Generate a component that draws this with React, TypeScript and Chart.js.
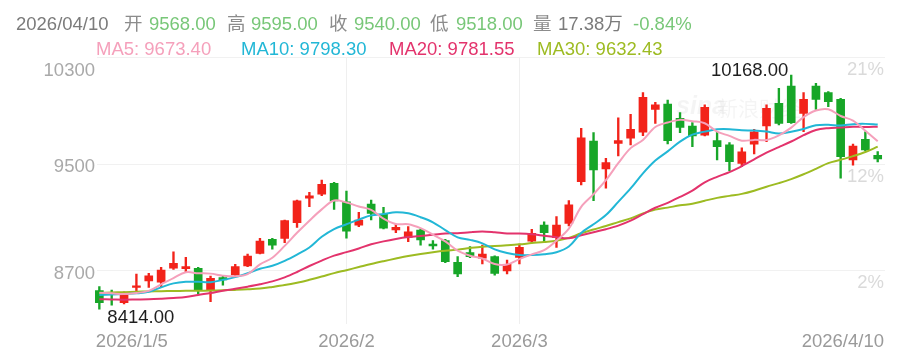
import { useEffect, useRef } from 'react';
import { Chart, registerables } from 'chart.js';

Chart.register(...registerables);

// ---- data ----
const dates = [
  '2026/1/5', '2026/1/6', '2026/1/7', '2026/1/8', '2026/1/9', '2026/1/12', '2026/1/13', '2026/1/14', '2026/1/15', '2026/1/16',
  '2026/1/19', '2026/1/20', '2026/1/21', '2026/1/22', '2026/1/23', '2026/1/26', '2026/1/27', '2026/1/28', '2026/1/29', '2026/1/30',
  '2026/2/2', '2026/2/3', '2026/2/4', '2026/2/5', '2026/2/6', '2026/2/9', '2026/2/10', '2026/2/11', '2026/2/12', '2026/2/13',
  '2026/2/24', '2026/2/25', '2026/2/26', '2026/2/27',
  '2026/3/2', '2026/3/3', '2026/3/4', '2026/3/5', '2026/3/6', '2026/3/9', '2026/3/10', '2026/3/11', '2026/3/12', '2026/3/13',
  '2026/3/16', '2026/3/17', '2026/3/18', '2026/3/19', '2026/3/20', '2026/3/23', '2026/3/24', '2026/3/25', '2026/3/26', '2026/3/27',
  '2026/3/30', '2026/3/31',
  '2026/4/1', '2026/4/2', '2026/4/3', '2026/4/6', '2026/4/7', '2026/4/8', '2026/4/9', '2026/4/10',
];

const opens = [
  8552, 8537, 8462, 8577, 8625, 8615, 8720, 8717, 8720, 8557,
  8650, 8670, 8737, 8832, 8937, 8944, 9062, 9245, 9275, 9357,
  9219, 9044, 9202, 9125, 9007, 8952, 9007, 8902, 8927, 8765,
  8837, 8795, 8807, 8700, 8802, 8924, 9044, 8949, 9057, 9369,
  9674, 9465, 9657, 9695, 9740, 9912, 9952, 9845, 9787, 9719,
  9677, 9645, 9507, 9650, 9787, 9957, 10087, 9882, 10087, 10037,
  9987, 9532, 9687, 9568,
];
const highs = [
  8582, 8557, 8544, 8677, 8682, 8727, 8844, 8802, 8727, 8662,
  8662, 8750, 8827, 8944, 8944, 9082, 9232, 9290, 9382, 9365,
  9299, 9140, 9232, 9177, 9050, 9032, 9015, 8927, 8937, 8807,
  8883, 8894, 8814, 8782, 8902, 9012, 9069, 9107, 9227, 9770,
  9737, 9545, 9849, 9875, 10037, 9965, 9982, 9887, 9812, 9945,
  9744, 9662, 9624, 9762, 9945, 10070, 10168, 10037, 10107, 10045,
  9995, 9652, 9744, 9595,
];
const lows = [
  8414, 8444, 8452, 8544, 8577, 8582, 8712, 8687, 8527, 8469,
  8594, 8657, 8732, 8827, 8864, 8912, 9027, 9182, 9264, 9162,
  8945, 9032, 9082, 9015, 8987, 8919, 8894, 8864, 8762, 8657,
  8799, 8752, 8669, 8677, 8752, 8912, 8919, 8877, 9037, 9345,
  9227, 9320, 9562, 9645, 9714, 9807, 9652, 9737, 9632, 9712,
  9532, 9452, 9482, 9577, 9669, 9795, 9807, 9744, 9912, 9932,
  9395, 9494, 9602, 9518,
];
const closes = [
  8462, 8522, 8520, 8589, 8664, 8707, 8757, 8732, 8557, 8645,
  8632, 8732, 8812, 8924, 8894, 9077, 9225, 9264, 9350, 9225,
  8999, 9082, 9132, 9020, 9027, 8994, 8932, 8887, 8769, 8677,
  8807, 8827, 8682, 8750, 8877, 8982, 8987, 9044, 9195, 9699,
  9457, 9512, 9677, 9762, 10002, 9945, 9677, 9777, 9712, 9927,
  9632, 9519, 9594, 9744, 9920, 9807, 9812, 9987, 9987, 9969,
  9557, 9637, 9607, 9540,
];

const ma5 = [
  8537, 8532, 8527, 8535, 8551, 8600, 8647, 8690, 8683, 8680,
  8665, 8660, 8676, 8749, 8799, 8888, 8986, 9077, 9162, 9228,
  9213, 9184, 9158, 9092, 9052, 9051, 9021, 8972, 8922, 8852,
  8814, 8793, 8752, 8749, 8789, 8824, 8856, 8928, 9017, 9181,
  9276, 9381, 9508, 9621, 9682, 9780, 9813, 9833, 9823, 9808,
  9745, 9713, 9677, 9683, 9682, 9717, 9775, 9854, 9903, 9912,
  9862, 9827, 9751, 9673,
];
const ma10 = [
  8520, 8523, 8527, 8532, 8544, 8577, 8607, 8619, 8619, 8616,
  8633, 8654, 8683, 8716, 8739, 8776, 8823, 8876, 8956, 9014,
  9050, 9085, 9117, 9127, 9140, 9132, 9103, 9065, 9007, 8952,
  8933, 8907, 8862, 8835, 8820, 8819, 8825, 8840, 8883, 8985,
  9050, 9119, 9218, 9319, 9432, 9528, 9597, 9670, 9722, 9745,
  9762, 9763, 9755, 9753, 9745, 9731, 9744, 9765, 9793, 9797,
  9790, 9801, 9803, 9798,
];
const ma20 = [
  8488, 8486, 8484, 8486, 8488, 8492, 8497, 8504, 8520, 8535,
  8552, 8566, 8582, 8600, 8622, 8652, 8692, 8737, 8778, 8815,
  8841, 8869, 8900, 8922, 8940, 8954, 8963, 8971, 8981, 8983,
  8991, 8996, 8990, 8981, 8980, 8975, 8964, 8953, 8945, 8968,
  8991, 9013, 9040, 9077, 9126, 9174, 9211, 9255, 9302, 9365,
  9406, 9441, 9486, 9536, 9588, 9629, 9671, 9718, 9757, 9771,
  9776, 9782, 9779, 9782,
];
const ma30 = [
  8535, 8538, 8541, 8544, 8546, 8548, 8550, 8551, 8552, 8553,
  8555, 8558, 8562, 8568, 8580, 8594, 8612, 8634, 8658, 8684,
  8706, 8729, 8752, 8773, 8793, 8812, 8828, 8841, 8852, 8860,
  8872, 8882, 8887, 8893, 8900, 8909, 8917, 8927, 8948, 8983,
  9011, 9037, 9066, 9094, 9131, 9160, 9175, 9192, 9204, 9227,
  9248, 9263, 9278, 9302, 9332, 9359, 9389, 9425, 9466, 9509,
  9534, 9561, 9592, 9632,
];

const yTicks = [8700, 9500, 10300];
const yTickLabels = ['8700', '9500', '10300'];
const pctLabels = ['2%', '12%', '21%'];
const xGridIdx = [20, 34];
const xLabelIdx = [0, 20, 34, 63];
const xLabels = ['2026/1/5', '2026/2', '2026/3', '2026/4/10'];

const maNames = ['MA5', 'MA10', 'MA20', 'MA30'];
const maValues = ['9673.40', '9798.30', '9781.55', '9632.43'];
const maColors = ['#f5a0bb', '#22b7d6', '#e3336c', '#9dbb22'];

const headDate = '2026/04/10';
const headKeys = ['开', '高', '收', '低'];
const headVals = ['9568.00', '9595.00', '9540.00', '9518.00'];
const headVolKey = '量';
const headVol = '17.38万';
const headChg = '-0.84%';

const highNote = { idx: 56, text: '10168.00' };
const lowNote = { idx: 0, text: '8414.00' };

const UP = '#f2231a';
const DOWN = '#17a628';
const FONT = '"Liberation Sans", Arial, "Noto Sans CJK SC", sans-serif';

const overlayPlugin = {
  id: 'overlay',
  beforeDatasetsDraw(chart: any) {
    const ctx = chart.ctx;
    ctx.save();
    ctx.fillStyle = 'rgba(0,0,0,0.045)';
    ctx.textBaseline = 'alphabetic';
    ctx.textAlign = 'left';
    ctx.font = 'italic bold 25px ' + FONT;
    ctx.fillText('sina', 676, 114);
    ctx.font = '21px "Noto Sans CJK SC", sans-serif';
    ctx.fillText('新浪财经', 717, 116);
    ctx.restore();
  },
  afterDraw(chart: any) {
    const ctx = chart.ctx;
    const y = chart.scales.y;
    const x = chart.scales.x;
    const area = chart.chartArea;
    ctx.save();
    ctx.textBaseline = 'alphabetic';
    ctx.font = '18.5px ' + FONT;

    const put = (t: string, px: number, py: number, c: string, align: CanvasTextAlign = 'left') => {
      ctx.fillStyle = c;
      ctx.textAlign = align;
      ctx.fillText(t, px, py);
    };
    // header line 1
    const H1 = 29.5;
    put(headDate, 16, H1, '#7b7b7b');
    const keyX = [124, 227, 329, 430];
    const valX = [149, 251, 354, 456];
    headKeys.forEach((k, i) => {
      put(k, keyX[i], H1, '#8c8c8c');
      put(headVals[i], valX[i], H1, '#78c778');
    });
    put(headVolKey, 533, H1, '#8c8c8c');
    put(headVol, 558, H1, '#7b7b7b');
    put(headChg, 633, H1, '#78c778');

    // MA legend line
    const H2 = 55;
    const maX = [96, 241, 389, 537];
    maNames.forEach((n, i) => put(n + ': ' + maValues[i], maX[i], H2, maColors[i]));

    // left y labels
    yTicks.forEach((v, i) => {
      const py = y.getPixelForValue(v);
      const base = i === yTicks.length - 1 ? py + 18.5 : py + 8;
      put(yTickLabels[i], 95, base, '#a9a9a9', 'right');
    });
    // right percentage labels
    yTicks.forEach((v, i) => {
      const py = y.getPixelForValue(v);
      put(pctLabels[i], 884, py + 17.5, '#dadada', 'right');
    });

    // x labels
    xLabelIdx.forEach((idx, i) => {
      const px = x.getPixelForValue(idx);
      let align: CanvasTextAlign = 'center';
      let ax = px;
      if (i === 0) { align = 'left'; ax = px - 3.5; }
      if (i === xLabelIdx.length - 1) { align = 'right'; ax = area.right - 1; }
      put(xLabels[i], ax, 346.5, '#9a9a9a', align);
    });

    // high / low notes
    const hx = x.getPixelForValue(highNote.idx);
    const hy = y.getPixelForValue(highs[highNote.idx]);
    put(highNote.text, hx - 3, hy + 1, '#1e1e1e', 'right');
    const lx = x.getPixelForValue(lowNote.idx);
    const ly = y.getPixelForValue(lows[lowNote.idx]);
    put(lowNote.text, lx + 8, ly + 13.5, '#1e1e1e', 'left');

    ctx.restore();
  },
};

export default function App() {
  const ref = useRef<HTMLCanvasElement | null>(null);

  useEffect(() => {
    if (!ref.current) return;
    const colors = closes.map((c, i) => (c >= opens[i] ? UP : DOWN));
    const line = (data: number[], color: string) => ({
      type: 'line' as const,
      data: data.map((v, i) => ({ x: i, y: v })),
      borderColor: color,
      borderWidth: 2,
      pointRadius: 0,
      tension: 0.35,
      fill: false,
      order: 1,
    });
    const chart = new Chart(ref.current, {
      type: 'bar',
      data: {
        datasets: [
          line(ma5, maColors[0]),
          line(ma10, maColors[1]),
          line(ma20, maColors[2]),
          line(ma30, maColors[3]),
          {
            type: 'bar',
            data: opens.map((o, i) => ({ x: i, y: [o, closes[i]] })) as any,
            backgroundColor: colors,
            barThickness: 8,
            minBarLength: 1.5,
            grouped: false,
            order: 2,
            clip: 8,
          } as any,
          {
            type: 'bar',
            data: lows.map((l, i) => ({ x: i, y: [l, highs[i]] })) as any,
            backgroundColor: colors,
            barThickness: 1.7,
            grouped: false,
            order: 3,
            clip: 8,
          } as any,
        ],
      },
      options: {
        animation: false,
        responsive: false,
        events: [],
        layout: { padding: { left: 97, right: 19, top: 57.6, bottom: 35.7 } },
        plugins: { legend: { display: false }, tooltip: { enabled: false } },
        scales: {
          x: {
            type: 'linear',
            min: -0.19,
            max: 63.59,
            offset: false,
            afterBuildTicks: (s: any) => { s.ticks = xGridIdx.map((v) => ({ value: v })); },
            afterFit: (s: any) => { s.height = 0; },
            ticks: { display: false },
            grid: { color: '#efefef', drawTicks: false, offset: false, lineWidth: 1 },
            border: { display: false },
          },
          y: {
            min: 8300,
            max: 10300,
            afterBuildTicks: (s: any) => { s.ticks = yTicks.map((v) => ({ value: v })); },
            afterFit: (s: any) => { s.width = 0; },
            ticks: { display: false },
            grid: { color: '#f1f1f1', drawTicks: false, lineWidth: 1 },
            border: { display: false },
          },
        },
      } as any,
      plugins: [overlayPlugin],
    });
    return () => chart.destroy();
  }, []);

  return (
    <div style={{ position: 'fixed', left: 0, top: 0, width: 904, height: 360, background: '#fff' }}>
      <canvas ref={ref} width={904} height={360} style={{ display: 'block' }} />
    </div>
  );
}
